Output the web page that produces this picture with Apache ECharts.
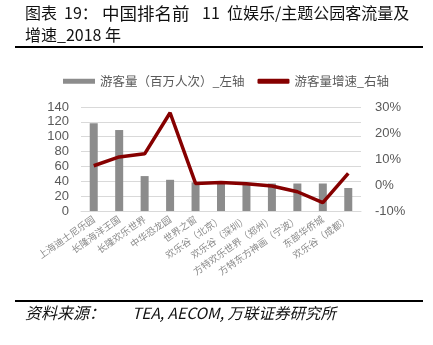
<!DOCTYPE html>
<html>
<head>
<meta charset="utf-8">
<script src="https://cdn.jsdelivr.net/npm/echarts@6/dist/echarts.min.js"></script>
<style>
html,body{margin:0;padding:0;background:#fff;}
#c{width:433px;height:345px;}
</style>
</head>
<body>
<div id="c"></div>
<script>
var categories = ['上海迪士尼乐园','长隆海洋王国','长隆欢乐世界','中华恐龙园','世界之窗','欢乐谷（北京）','欢乐谷（深圳）','方特欢乐世界（郑州）','方特东方神画（宁波）','东部华侨城','欢乐谷（成都）'];
var visitors = [118, 109, 47, 42, 38.6, 37.5, 37.5, 37, 37, 37, 31];
var growth = [7.4, 10.8, 12.0, 27.8, 0.6, 1.0, 0.5, -0.4, -2.6, -6.8, 4.5];
var leftTicks = {min: 0, max: 140, interval: 20};
var rightTicks = {min: -10, max: 30, interval: 10};
var seriesNames = ['游客量（百万人次）_左轴', '游客量增速_右轴'];
var titleParts = ['图表', '19：', '中国排名前', '11', '位娱乐/主题公园客流量及'];
var titleLine2 = '增速_2018 年';
var sourceParts = ['资料来源：', 'TEA, AECOM, 万联证券研究所'];

var chart = echarts.init(document.getElementById('c'), null, {renderer: 'canvas'});
var cjk = '"Noto Sans CJK SC", "Noto Sans", sans-serif';
var titleX = [25, 64, 102, 202, 227];
var graphics = [];
titleParts.forEach(function (t, i) {
  graphics.push({type: 'text', left: titleX[i], top: 5, style: {text: t, fontSize: i === 2 ? 17.5 : 16, fill: '#111', fontFamily: cjk}});
});
graphics.push({type: 'text', left: 25, top: 27, style: {text: titleLine2, fontSize: 16, fill: '#111', fontFamily: cjk}});
graphics.push({type: 'rect', shape: {x: 15, y: 46, width: 408, height: 2}, style: {fill: '#000'}});
graphics.push({type: 'rect', shape: {x: 15, y: 300, width: 408, height: 2}, style: {fill: '#000'}});
graphics.push({type: 'text', left: 25, top: 305, style: {text: sourceParts[0], fontSize: 16, fontStyle: 'italic', fill: '#111', fontFamily: cjk}});
graphics.push({type: 'text', left: 132, top: 305, style: {text: sourceParts[1], fontSize: 15.5, fontStyle: 'italic', fill: '#111', fontFamily: cjk}});

chart.setOption({
  animation: false,
  backgroundColor: '#fff',
  textStyle: {fontFamily: cjk},
  grid: {left: 81, right: 72, top: 107, bottom: 134, containLabel: false},
  legend: {
    top: 70,
    left: 58,
    itemWidth: 32,
    itemHeight: 5,
    itemGap: 13,
    textStyle: {fontSize: 12.5, color: '#595959', fontFamily: cjk},
    data: [
      {name: seriesNames[0], icon: 'rect'},
      {name: seriesNames[1], icon: 'roundRect'}
    ]
  },
  xAxis: {
    type: 'category',
    data: categories,
    axisLine: {lineStyle: {color: '#d9d9d9'}},
    axisTick: {show: false},
    axisLabel: {interval: 0, rotate: 35, fontSize: 9.5, color: '#8a8a8a', margin: 7}
  },
  yAxis: [
    {
      type: 'value', min: leftTicks.min, max: leftTicks.max, interval: leftTicks.interval,
      axisLine: {show: false}, axisTick: {show: false},
      axisLabel: {fontSize: 13, color: '#595959', margin: 12, fontFamily: 'Liberation Sans, Arial, sans-serif'},
      splitLine: {lineStyle: {color: '#d9d9d9', width: 1}}
    },
    {
      type: 'value', min: rightTicks.min, max: rightTicks.max, interval: rightTicks.interval,
      axisLine: {show: false}, axisTick: {show: false},
      axisLabel: {fontSize: 13, color: '#595959', margin: 14, formatter: '{value}%', fontFamily: 'Liberation Sans, Arial, sans-serif'},
      splitLine: {show: false}
    }
  ],
  series: [
    {
      name: seriesNames[0], type: 'bar', data: visitors, yAxisIndex: 0,
      barWidth: 8, itemStyle: {color: '#8c8c8c'}
    },
    {
      name: seriesNames[1], type: 'line', data: growth, yAxisIndex: 1,
      symbol: 'none', lineStyle: {color: '#860000', width: 3.5}, itemStyle: {color: '#860000'}
    }
  ],
  graphic: graphics
});
</script>
</body>
</html>
